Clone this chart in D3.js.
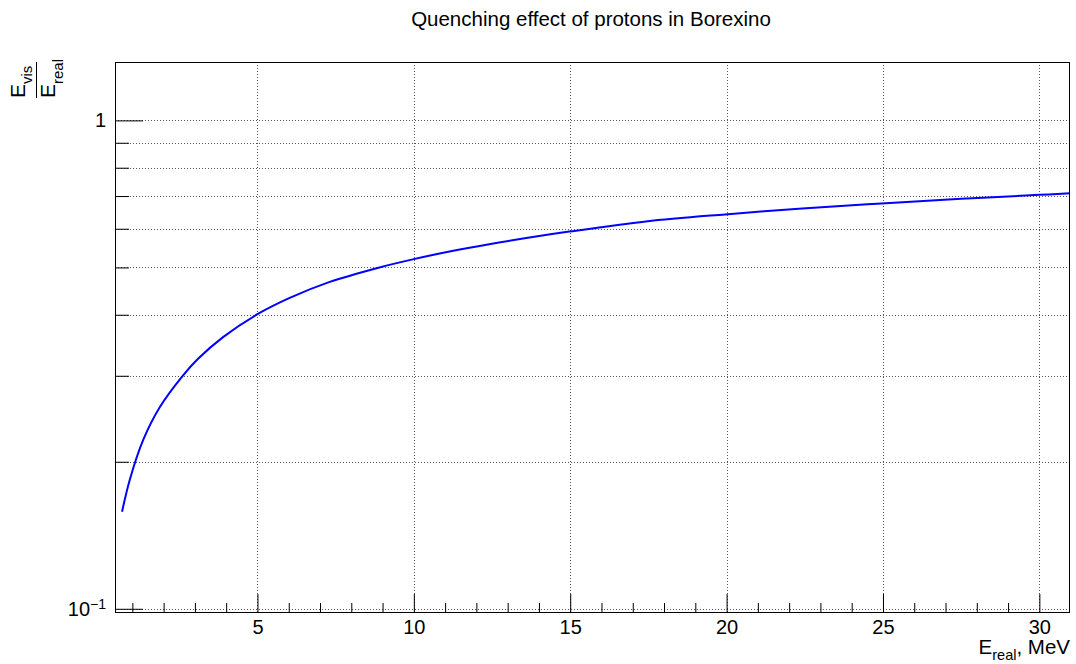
<!DOCTYPE html>
<html>
<head>
<meta charset="utf-8">
<script src="https://cdn.jsdelivr.net/npm/d3@7"></script>
<style>
  body{margin:0;background:#fff;}
  text{font-family:"Liberation Sans",Arial,sans-serif;fill:#000;}
</style>
</head>
<body>
<svg id="chart" width="1076" height="664"></svg>
<script>
// values
var eReal   = [0.67, 0.92, 1.35, 1.88, 2.61, 3.10, 3.90, 5.00, 6.03, 7.31, 8.90, 10.0, 11.14, 12.41, 13.80, 14.97, 17.42, 19.95, 22.42, 24.95, 27.5, 30.0, 30.98];
var quench  = [0.158, 0.184, 0.222, 0.259, 0.300, 0.325, 0.360, 0.401, 0.433, 0.467, 0.500, 0.520, 0.539, 0.558, 0.577, 0.592, 0.621, 0.642, 0.660, 0.676, 0.691, 0.704, 0.709];
var xMajor  = [5, 10, 15, 20, 25, 30];
var xMinor  = [1, 2, 3, 4, 6, 7, 8, 9, 11, 12, 13, 14, 16, 17, 18, 19, 21, 22, 23, 24, 26, 27, 28, 29];
var yMajor  = [0.1, 1];
var yMinor  = [0.2, 0.3, 0.4, 0.5, 0.6, 0.7, 0.8, 0.9];
var title   = "Quenching effect of protons in Borexino";

var L = 115, R = 1070, T = 62, B = 612;
var svg = d3.select("#chart");

var x = d3.scaleLinear().domain([0.445, 30.98]).range([L, R]);
var y = d3.scaleLog().domain([0.0985, 1.317]).range([B, T]);

// grid
var grid = svg.append("g").attr("stroke", "#555").attr("stroke-width", 1).attr("stroke-dasharray", "1,2");
grid.selectAll("line.v").data(xMajor).enter().append("line")
    .attr("x1", d => Math.round(x(d)) + 0.5).attr("x2", d => Math.round(x(d)) + 0.5)
    .attr("y1", T).attr("y2", B);
grid.selectAll("line.h").data(yMajor.concat(yMinor)).enter().append("line")
    .attr("y1", d => Math.round(y(d)) + 0.5).attr("y2", d => Math.round(y(d)) + 0.5)
    .attr("x1", L).attr("x2", R);

// curve
svg.append("clipPath").attr("id", "frameClip").append("rect")
    .attr("x", L).attr("y", T).attr("width", R - L).attr("height", B - T);

var line = d3.line()
    .x((d, i) => x(eReal[i]))
    .y((d, i) => y(quench[i]))
    .curve(d3.curveCatmullRom.alpha(0.5));

svg.append("path").datum(quench)
    .attr("d", line)
    .attr("clip-path", "url(#frameClip)")
    .attr("fill", "none")
    .attr("stroke", "#0000ff")
    .attr("stroke-width", 2);

// axes
var styleAxis = function(g){
    g.select(".domain").remove();
    g.selectAll(".tick line").attr("stroke", "#000");
    g.selectAll(".tick text").style("font-size", "20px").attr("fill", "#000");
};

svg.append("g").attr("transform", "translate(0," + B + ")")
    .call(d3.axisBottom(x).tickValues(xMinor).tickSize(-9).tickFormat(""))
    .call(styleAxis);
svg.append("g").attr("transform", "translate(0," + B + ")")
    .call(d3.axisBottom(x).tickValues(xMajor).tickSize(-18).tickPadding(8).tickFormat(d3.format("d")))
    .call(styleAxis);

svg.append("g").attr("transform", "translate(" + L + ",0)")
    .call(d3.axisLeft(y).tickValues(yMinor).tickSize(-14).tickFormat(""))
    .call(styleAxis);
var yAx = svg.append("g").attr("transform", "translate(" + L + ",0)")
    .call(d3.axisLeft(y).tickValues(yMajor).tickSize(-28).tickPadding(9)
        .tickFormat(d => d === 1 ? "1" : ""))
    .call(styleAxis);
yAx.selectAll(".tick").filter(d => d === 0.1).select("text")
    .each(function(){
        var t = d3.select(this);
        t.append("tspan").text("10");
        t.append("tspan").attr("dy", "-0.45em").style("font-size", "14px").text("\u22121");
    });

// frame
svg.append("rect").attr("x", L + 0.5).attr("y", T + 0.5)
    .attr("width", R - L - 1).attr("height", B - T)
    .attr("fill", "none").attr("stroke", "#000").attr("stroke-width", 1);

// title
svg.append("text").attr("x", 591).attr("y", 26).attr("text-anchor", "middle")
    .style("font-size", "20.5px").text(title);

// x title
var xt = svg.append("text").attr("x", R).attr("y", 654).attr("text-anchor", "end")
    .style("font-size", "20.5px");
xt.append("tspan").text("E");
xt.append("tspan").attr("dy", 6).style("font-size", "14.5px").text("real");
xt.append("tspan").attr("dy", -6).text(", MeV");

// y title (fraction, rotated)
var yt = svg.append("g").attr("transform", "rotate(-90)");
var num = yt.append("text").attr("x", -98).attr("y", 25).style("font-size", "21px");
num.append("tspan").text("E");
num.append("tspan").attr("dy", 7).style("font-size", "15px").text("vis");
var den = yt.append("text").attr("x", -98).attr("y", 55).style("font-size", "21px");
den.append("tspan").text("E");
den.append("tspan").attr("dy", 8).style("font-size", "15px").text("real");
yt.append("line").attr("x1", -98).attr("x2", -62).attr("y1", 36.5).attr("y2", 36.5)
    .attr("stroke", "#000").attr("stroke-width", 1);
</script>
</body>
</html>
